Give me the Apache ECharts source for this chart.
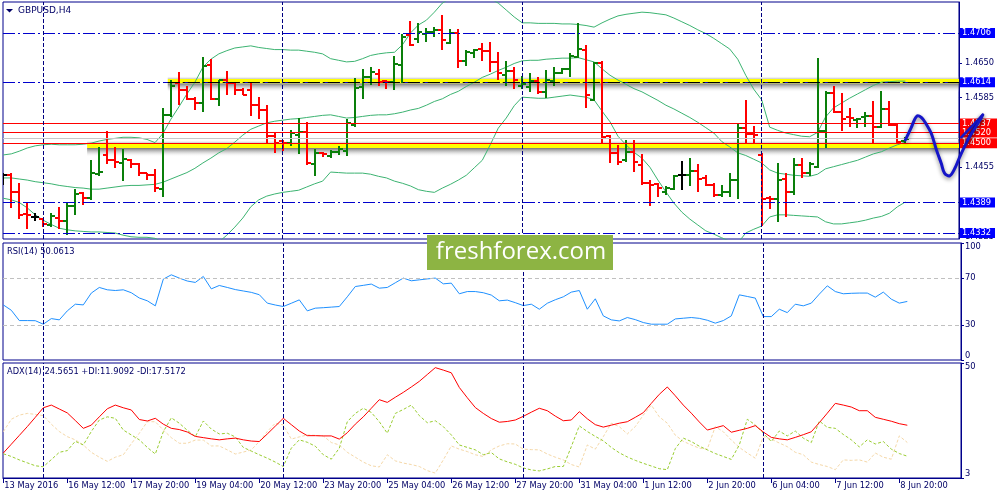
<!DOCTYPE html>
<html><head><meta charset="utf-8">
<script src="https://cdn.jsdelivr.net/npm/echarts@6/dist/echarts.min.js"></script>
<style>html,body{margin:0;padding:0;background:#fff}#c{width:1000px;height:500px}</style>
</head><body><div id="c"></div>
<script>
// ---------- DATA (GBPUSD H4, 13 May - 8 Jun 2016) ----------
const open=[1.4440,1.4440,1.4409,1.4367,1.4362,1.4358,1.4347,1.4360,1.4354,1.4383,
1.4407,1.4397,1.4442,1.4478,1.4468,1.4463,1.4468,1.4461,1.4444,1.4440,
1.4414,1.4553,1.4613,1.4599,1.4583,1.4575,1.4646,1.4583,1.4618,1.4612,
1.4599,1.4599,1.4571,1.4562,1.4513,1.4504,1.4500,1.4515,1.4521,1.4461,
1.4482,1.4476,1.4483,1.4485,1.4534,1.4605,1.4624,1.4629,1.4616,1.4614,
1.4646,1.4702,1.4695,1.4704,1.4708,1.4712,1.4687,1.4706,1.4654,1.4669,
1.4676,1.4672,1.4652,1.4627,1.4635,1.4607,1.4605,1.4616,1.4596,1.4616,
1.4631,1.4639,1.4661,1.4674,1.4581,1.4650,1.4513,1.4482,1.4468,1.4483,
1.4459,1.4425,1.4424,1.4409,1.4414,1.4440,1.4440,1.4448,1.4435,1.4422,
1.4403,1.4409,1.4431,1.4528,1.4517,1.4478,1.4397,1.4395,1.4433,1.4408,
1.4459,1.4444,1.4455,1.4523,1.4594,1.4558,1.4549,1.4543,1.4549,1.4551,
1.4530,1.4563,1.4534,1.4504];
const high=[1.4445,1.4444,1.4426,1.4388,1.4369,1.4360,1.4369,1.4380,1.4390,1.4415,
1.4409,1.4468,1.4493,1.4523,1.4493,1.4490,1.4470,1.4462,1.4445,1.4451,
1.4565,1.4618,1.4634,1.4606,1.4587,1.4662,1.4657,1.4619,1.4635,1.4613,
1.4603,1.4615,1.4586,1.4571,1.4521,1.4506,1.4525,1.4548,1.4540,1.4490,
1.4484,1.4487,1.4495,1.4546,1.4621,1.4638,1.4643,1.4638,1.4618,1.4663,
1.4705,1.4728,1.4724,1.4715,1.4718,1.4740,1.4713,1.4713,1.4675,1.4677,
1.4688,1.4690,1.4671,1.4654,1.4643,1.4626,1.4632,1.4623,1.4637,1.4643,
1.4641,1.4668,1.4724,1.4684,1.4652,1.4654,1.4515,1.4497,1.4505,1.4505,
1.4480,1.4431,1.4425,1.4419,1.4440,1.4467,1.4472,1.4461,1.4440,1.4425,
1.4422,1.4445,1.4537,1.4581,1.4532,1.4482,1.4401,1.4462,1.4444,1.4472,
1.4472,1.4464,1.4660,1.4597,1.4607,1.4594,1.4565,1.4548,1.4558,1.4579,
1.4598,1.4579,1.4537,1.4511];
const low=[1.4422,1.4378,1.4358,1.4339,1.4355,1.4344,1.4344,1.4339,1.4328,1.4366,
1.4384,1.4394,1.4439,1.4461,1.4453,1.4430,1.4453,1.4439,1.4431,1.4409,
1.4400,1.4549,1.4571,1.4581,1.4562,1.4559,1.4581,1.4569,1.4590,1.4590,
1.4590,1.4550,1.4546,1.4501,1.4482,1.4486,1.4495,1.4480,1.4459,1.4439,
1.4475,1.4473,1.4478,1.4476,1.4531,1.4583,1.4609,1.4607,1.4601,1.4599,
1.4612,1.4682,1.4687,1.4690,1.4699,1.4675,1.4685,1.4640,1.4644,1.4659,
1.4654,1.4634,1.4619,1.4606,1.4601,1.4601,1.4596,1.4592,1.4584,1.4606,
1.4629,1.4623,1.4659,1.4565,1.4579,1.4498,1.4463,1.4459,1.4465,1.4447,
1.4422,1.4383,1.4400,1.4403,1.4412,1.4412,1.4420,1.4409,1.4419,1.4399,
1.4400,1.4400,1.4396,1.4500,1.4500,1.4345,1.4376,1.4353,1.4362,1.4403,
1.4434,1.4439,1.4453,1.4491,1.4556,1.4523,1.4531,1.4529,1.4531,1.4501,
1.4528,1.4532,1.4500,1.4501];
const close=[1.4440,1.4409,1.4366,1.4365,1.4362,1.4349,1.4364,1.4354,1.4383,1.4405,
1.4397,1.4445,1.4447,1.4468,1.4465,1.4470,1.4461,1.4444,1.4440,1.4416,
1.4553,1.4607,1.4599,1.4583,1.4575,1.4644,1.4583,1.4618,1.4613,1.4599,
1.4590,1.4571,1.4562,1.4513,1.4501,1.4500,1.4519,1.4521,1.4463,1.4482,
1.4480,1.4483,1.4489,1.4538,1.4603,1.4624,1.4633,1.4614,1.4614,1.4648,
1.4698,1.4684,1.4708,1.4708,1.4712,1.4693,1.4706,1.4654,1.4671,1.4674,
1.4672,1.4652,1.4631,1.4635,1.4618,1.4611,1.4616,1.4596,1.4618,1.4631,
1.4639,1.4663,1.4676,1.4590,1.4650,1.4511,1.4481,1.4465,1.4483,1.4465,
1.4425,1.4422,1.4416,1.4417,1.4439,1.4440,1.4448,1.4433,1.4422,1.4403,
1.4409,1.4431,1.4528,1.4517,1.4515,1.4395,1.4395,1.4431,1.4408,1.4459,
1.4444,1.4461,1.4523,1.4594,1.4558,1.4546,1.4547,1.4546,1.4551,1.4530,
1.4563,1.4534,1.4502,1.4508];
const bbUpper=[1.4478,1.4480,1.4485,1.4491,1.4495,1.4497,1.4498,1.4497,1.4497,1.4497,
1.4498,1.4500,1.4504,1.4507,1.4509,1.4511,1.4511,1.4510,1.4507,1.4501,
1.4518,1.4545,1.4568,1.4592,1.4614,1.4642,1.4657,1.4667,1.4673,1.4678,
1.4680,1.4682,1.4679,1.4677,1.4675,1.4675,1.4674,1.4674,1.4672,1.4670,
1.4667,1.4658,1.4655,1.4652,1.4653,1.4658,1.4664,1.4667,1.4669,1.4670,
1.4684,1.4706,1.4721,1.4730,1.4745,1.4762,1.4771,1.4779,1.4783,1.4781,
1.4777,1.4770,1.4762,1.4749,1.4736,1.4725,1.4725,1.4724,1.4724,1.4724,
1.4723,1.4723,1.4722,1.4720,1.4717,1.4725,1.4732,1.4738,1.4741,1.4743,
1.4745,1.4744,1.4742,1.4740,1.4734,1.4727,1.4720,1.4712,1.4705,1.4696,
1.4686,1.4676,1.4657,1.4627,1.4601,1.4581,1.4530,1.4524,1.4519,1.4516,
1.4513,1.4512,1.4520,1.4549,1.4566,1.4575,1.4584,1.4592,1.4600,1.4608,
1.4614,1.4615,1.4616,1.4616];
const bbMiddle=[1.4435,1.4435,1.4433,1.4431,1.4428,1.4426,1.4424,1.4421,1.4419,1.4417,
1.4416,1.4414,1.4414,1.4416,1.4418,1.4420,1.4421,1.4421,1.4422,1.4423,
1.4427,1.4433,1.4439,1.4445,1.4453,1.4463,1.4472,1.4482,1.4490,1.4502,
1.4515,1.4526,1.4532,1.4538,1.4541,1.4543,1.4545,1.4546,1.4548,1.4550,
1.4552,1.4553,1.4550,1.4547,1.4548,1.4550,1.4552,1.4553,1.4553,1.4555,
1.4558,1.4562,1.4565,1.4571,1.4578,1.4583,1.4591,1.4597,1.4606,1.4614,
1.4623,1.4629,1.4636,1.4642,1.4649,1.4654,1.4655,1.4655,1.4657,1.4658,
1.4659,1.4659,1.4660,1.4656,1.4652,1.4639,1.4627,1.4618,1.4610,1.4602,
1.4596,1.4588,1.4580,1.4571,1.4564,1.4556,1.4548,1.4539,1.4529,1.4519,
1.4503,1.4493,1.4482,1.4477,1.4470,1.4463,1.4450,1.4444,1.4442,1.4440,
1.4439,1.4438,1.4442,1.4452,1.4456,1.4460,1.4464,1.4468,1.4474,1.4480,
1.4484,1.4491,1.4497,1.4502];
const bbLower=[1.4397,1.4394,1.4389,1.4379,1.4366,1.4356,1.4348,1.4341,1.4338,1.4336,
1.4335,1.4334,1.4334,1.4333,1.4332,1.4328,1.4325,1.4324,1.4324,1.4322,
1.4315,1.4300,1.4289,1.4281,1.4281,1.4289,1.4300,1.4315,1.4328,1.4343,
1.4360,1.4381,1.4394,1.4401,1.4405,1.4408,1.4410,1.4412,1.4418,1.4424,
1.4429,1.4446,1.4445,1.4444,1.4444,1.4444,1.4442,1.4438,1.4435,1.4429,
1.4425,1.4420,1.4413,1.4410,1.4408,1.4416,1.4423,1.4431,1.4440,1.4454,
1.4468,1.4497,1.4528,1.4547,1.4570,1.4586,1.4585,1.4584,1.4584,1.4586,
1.4588,1.4590,1.4588,1.4586,1.4581,1.4560,1.4540,1.4513,1.4497,1.4483,
1.4472,1.4455,1.4431,1.4409,1.4388,1.4371,1.4358,1.4347,1.4336,1.4330,
1.4323,1.4317,1.4313,1.4332,1.4339,1.4345,1.4362,1.4366,1.4366,1.4365,
1.4364,1.4363,1.4362,1.4353,1.4349,1.4349,1.4351,1.4353,1.4356,1.4360,
1.4363,1.4369,1.4381,1.4390];
const rsi=[47.1,42.5,33.7,33.7,33.6,30.6,35.4,34.3,42.0,47.7,
47.1,57.2,62.0,60.0,59.4,60.0,57.5,53.0,50.6,46.3,
69.1,72.8,70.0,67.5,66.3,71.4,60.8,63.7,62.0,60.2,
59.0,57.8,55.8,48.6,47.0,45.7,48.5,51.4,42.0,44.3,
44.7,45.2,45.7,54.0,62.8,63.8,64.9,61.4,62.0,66.0,
70.0,67.7,68.5,69.3,70.0,65.1,65.7,56.6,58.5,58.5,
57.5,55.5,50.6,51.2,49.0,46.5,47.7,43.4,48.5,51.5,
54.0,58.0,59.4,43.4,52.3,37.7,34.3,33.4,36.3,34.5,
32.0,30.6,30.6,30.6,35.1,35.7,36.3,35.6,34.0,31.5,
33.7,37.7,55.7,54.3,52.9,37.1,37.1,43.4,40.5,47.7,
46.3,48.6,56.3,63.4,58.5,56.6,57.0,57.2,57.2,53.7,
58.0,52.0,48.6,50.06];
const adx=[13.2,16.8,20.4,24.0,27.8,31.7,32.8,31.2,29.6,26.5,
23.3,24.6,28.0,31.3,32.8,31.7,30.8,26.9,26.3,27.4,
25.0,23.3,22.8,21.8,20.0,19.5,19.0,18.6,19.0,19.3,
18.6,18.1,17.9,21.0,24.2,27.4,24.8,22.2,20.3,20.3,
20.2,20.2,18.9,21.5,25.0,28.0,31.5,35.0,33.9,36.0,
38.0,40.2,42.5,45.3,48.1,47.1,46.0,40.0,35.8,31.8,
29.4,27.3,25.8,26.1,26.7,28.2,29.9,31.5,30.5,28.3,
26.4,26.7,30.1,27.2,24.8,23.8,24.6,25.4,26.0,27.8,
29.7,33.5,37.2,40.2,36.6,32.8,29.5,25.9,22.6,23.5,
24.4,21.7,22.5,23.3,24.4,21.8,19.6,19.0,18.6,19.6,
20.7,21.9,25.6,29.5,33.5,32.8,32.0,30.5,30.5,27.8,
27.0,26.2,25.2,24.57];
const plusDI=[12.9,11.8,10.4,9.2,8.0,7.6,10.5,13.5,14.2,18.0,
16.5,22.0,26.7,28.0,27.4,22.6,20.6,18.6,15.5,12.8,
21.9,27.6,25.4,22.5,19.9,26.3,23.0,21.0,21.3,19.8,
15.5,14.0,12.5,11.1,9.5,7.7,15.2,18.6,17.6,16.0,
12.5,10.7,15.2,26.0,29.4,31.5,29.8,26.0,21.3,29.4,
31.0,32.8,28.5,25.6,26.4,24.0,20.6,16.5,15.5,14.5,
12.5,13.4,10.8,9.6,8.6,7.1,6.3,5.9,6.7,7.7,
7.7,15.8,24.3,22.0,20.0,18.2,15.5,13.3,11.6,10.2,
9.0,7.9,6.8,6.4,15.0,19.3,17.9,16.0,14.5,13.0,
11.8,10.6,16.5,27.0,24.7,21.3,17.9,22.2,20.2,22.2,
19.3,17.5,26.3,23.7,23.3,20.8,18.6,15.7,18.6,16.9,
17.9,14.8,13.0,11.91];
const minusDI=[21.9,27.0,28.7,29.4,29.0,28.5,25.0,22.0,19.9,18.6,
16.5,13.5,11.5,9.8,11.5,12.5,17.0,21.3,26.0,26.0,
22.6,19.5,17.2,17.2,18.5,18.5,16.1,16.1,14.5,12.8,
13.6,14.5,17.9,22.0,25.4,24.7,18.9,19.8,20.6,20.4,
20.2,17.5,16.5,13.5,11.5,9.5,8.0,7.5,12.5,10.0,
9.1,8.5,7.7,6.0,5.0,10.4,16.1,14.8,13.8,12.5,
11.8,14.5,16.1,17.0,16.9,14.8,14.6,14.5,12.8,11.5,
10.4,8.5,7.5,16.5,14.8,19.9,25.4,24.0,21.0,24.0,
28.7,32.8,28.0,25.4,20.5,18.0,16.5,15.2,14.8,24.0,
21.9,18.5,15.5,13.2,11.1,19.9,18.9,17.3,15.8,13.5,
12.5,9.5,8.5,7.7,6.4,10.4,10.2,10.4,9.5,13.2,
11.5,10.7,20.2,17.52];
const xLabelIdx=[0,8,16,24,32,40,48,56,64,72,80,88,96,104,112];
const xLabels=['13 May 2016','16 May 12:00','17 May 20:00','19 May 04:00','20 May 12:00','23 May 20:00','25 May 04:00','26 May 12:00','27 May 20:00','31 May 04:00','1 Jun 12:00','2 Jun 20:00','6 Jun 04:00','7 Jun 12:00','8 Jun 20:00'];
const weekStarts=[5,35,65,95];
const plainTicks=[1.4325,1.4455,1.4585,1.4650];
const levelsBlue=[1.4706,1.4614,1.4389,1.4332];
const levelsRed=[1.4537,1.4520,1.4500];
const bidPrice=1.4509;
const zoneHigh={from:20.6, top:1.4620, bottom:1.4612, line:1.4614};
const zoneLow={from:10.5, top:1.4500, bottom:1.4491};
const rsiLevels=[30,70];
const rsiTicks=[0,30,70,100];
const adxTicks=[3,50];
const predIdx=[113.0,113.7,114.4,115.0,115.6,116.25,116.9,117.5,117.9,118.55,119.2,119.8,120.4,121.7,122.7];
const predPrice=[1.4506,1.4528,1.4550,1.4548,1.4536,1.4518,1.4487,1.4462,1.4444,1.4439,1.4453,1.4474,1.4493,1.4531,1.4553];
const arrowIdx=[[120.0,122.7],[120.8,122.6]];
const arrowPrice=[[1.4511,1.4553],[1.4506,1.4549]];

// ---------- CHART ----------
const F='DejaVu Sans', FS=8.3, NAVY='#00008b', TXT='#000066';
const xMin=-0.0375, xMax=119.7125, yMin=1.43208, yMax=1.47640;
const PLOT_W=958, MAIN_H=237;
const pxP=(yMax-yMin)/MAIN_H; // price per pixel
const ohlc=open.map((o,i)=>[i,o,high[i],low[i],close[i]]);
const pairs=a=>a.map((v,i)=>[i,v]);
const near=(v,arr)=>arr.some(a=>Math.abs(a-v)<1e-6);
const hLine=(v,style,x0)=>[{coord:[x0===undefined?xMin:x0,v],lineStyle:style},{coord:[xMax,v],lineStyle:style}];

function renderBar(params, api){
  const i=api.value(0),o=api.value(1),h=api.value(2),l=api.value(3),c=api.value(4);
  const pH=api.coord([i,h]),pL=api.coord([i,l]),pO=api.coord([i,o]),pC=api.coord([i,c]);
  const col=c>o?'#0a7f0a':(c<o?'#ff0000':'#000000');
  const x=Math.round(pH[0]);
  const st={stroke:col,lineWidth:2};
  const yo=Math.round(pO[1]), yc=Math.round(pC[1]);
  return {type:'group',children:[
    {type:'line',shape:{x1:x,y1:Math.round(pH[1]),x2:x,y2:Math.round(pL[1])},style:st},
    {type:'line',shape:{x1:x-4,y1:yo,x2:x,y2:yo},style:st},
    {type:'line',shape:{x1:x,y1:yc,x2:x+4,y2:yc},style:st}
  ]};
}
const PEN='#1616c8';
function renderPen(params, api){
  const pts=predIdx.map((v,i)=>api.coord([v,predPrice[i]]));
  const pen={stroke:PEN,fill:null,lineWidth:3,lineCap:'round',lineJoin:'round',shadowBlur:4,shadowColor:'rgba(0,0,0,0.45)',shadowOffsetY:2};
  const kids=[{type:'polyline',shape:{points:pts,smooth:0.35},style:pen}];
  arrowIdx.forEach((xs,k)=>{
    const a=api.coord([xs[0],arrowPrice[k][0]]), b=api.coord([xs[1],arrowPrice[k][1]]);
    kids.push({type:'line',shape:{x1:a[0],y1:a[1],x2:b[0],y2:b[1]},style:Object.assign({},pen,{lineWidth:2.5})});
  });
  return {type:'group',children:kids};
}
const weekLines=weekStarts.map(v=>({xAxis:v,lineStyle:{color:'#000080',type:[4,2],width:1}}));
const mlBase={silent:true,symbol:['none','none'],animation:false,precision:6,label:{show:false}};
const line=(data,color,xi,yi,extra)=>Object.assign({type:'line',xAxisIndex:xi,yAxisIndex:yi,data:data,
  symbol:'none',showSymbol:false,animation:false,silent:true,lineStyle:{color:color,width:1}},extra||{});

const shadowDown=new echarts.graphic.LinearGradient(0,0,0,1,[{offset:0,color:'rgba(70,70,70,0.75)'},{offset:0.45,color:'rgba(140,140,140,0.4)'},{offset:1,color:'rgba(255,255,255,0)'}]);
const shadowUp=new echarts.graphic.LinearGradient(0,1,0,0,[{offset:0,color:'rgba(120,120,120,0.45)'},{offset:1,color:'rgba(255,255,255,0)'}]);
const zoneAreas=[];
[zoneHigh,zoneLow].forEach(z=>{
  zoneAreas.push([{coord:[z.from,z.bottom],itemStyle:{color:shadowDown}},{coord:[xMax,z.bottom-9*pxP]}]);
  zoneAreas.push([{coord:[z.from,z.top+3*pxP],itemStyle:{color:shadowUp}},{coord:[xMax,z.top]}]);
  zoneAreas.push([{coord:[z.from,z.top],itemStyle:{color:'#ffff00'}},{coord:[xMax,z.bottom]}]);
});

const blueDD={color:'#0000cd',type:[12,3,2,3],width:1};
const axisLabelMain={customValues:[...plainTicks,...levelsBlue,...levelsRed],margin:1,
  formatter:v=>{const t=v.toFixed(4); if(near(v,levelsBlue)) return '{b|'+t+'}'; if(near(v,levelsRed)) return '{r|'+t+'}'; return '{p|'+t+'}';},
  rich:{
    p:{color:TXT,fontFamily:F,fontSize:FS,padding:[0,0,0,5]},
    b:{color:'#ffffff',fontFamily:F,fontSize:FS,backgroundColor:'#0000ff',padding:[1,4,1,2],lineHeight:9},
    r:{color:'#ffffff',fontFamily:F,fontSize:FS,backgroundColor:'#ff0000',padding:[1,6,1,2],lineHeight:9}
  }};

const option={
  animation:false,
  backgroundColor:'#ffffff',
  grid:[
    {left:3,top:2,width:PLOT_W,height:MAIN_H,show:true,borderColor:NAVY,borderWidth:1,backgroundColor:'#fff'},
    {left:3,top:243,width:PLOT_W,height:117,show:true,borderColor:NAVY,borderWidth:1,backgroundColor:'#fff'},
    {left:3,top:363,width:PLOT_W,height:115,show:true,borderColor:NAVY,borderWidth:1,backgroundColor:'#fff'}
  ],
  xAxis:[
    {gridIndex:0,type:'value',min:xMin,max:xMax,show:false},
    {gridIndex:1,type:'value',min:xMin,max:xMax,show:false},
    {gridIndex:2,type:'value',min:xMin,max:xMax,
      splitLine:{show:false},
      axisLine:{show:true,onZero:false,lineStyle:{color:NAVY}},
      axisTick:{show:true,customValues:xLabelIdx,length:5,lineStyle:{color:NAVY}},
      axisLabel:{customValues:xLabelIdx,align:'left',margin:4,padding:[0,0,0,1],color:TXT,fontFamily:F,fontSize:FS,
        formatter:v=>xLabels[xLabelIdx.indexOf(Math.round(v))]||''}}
  ],
  yAxis:[
    {gridIndex:0,type:'value',position:'right',min:yMin,max:yMax,splitLine:{show:false},
      axisLine:{show:true,onZero:false,lineStyle:{color:NAVY}},
      axisTick:{show:true,length:3,customValues:[...plainTicks,...levelsBlue,...levelsRed],lineStyle:{color:NAVY}},
      axisLabel:axisLabelMain},
    {gridIndex:1,type:'value',position:'right',min:0,max:100,splitLine:{show:false},
      axisLine:{show:true,onZero:false,lineStyle:{color:NAVY}},
      axisTick:{show:true,length:3,customValues:rsiTicks,lineStyle:{color:NAVY}},
      axisLabel:{customValues:rsiTicks,margin:4,color:TXT,fontFamily:F,fontSize:FS,
        verticalAlignMinLabel:'bottom',verticalAlignMaxLabel:'top'}},
    {gridIndex:2,type:'value',position:'right',min:3,max:50,splitLine:{show:false},
      axisLine:{show:true,onZero:false,lineStyle:{color:NAVY}},
      axisTick:{show:true,length:3,customValues:adxTicks,lineStyle:{color:NAVY}},
      axisLabel:{customValues:adxTicks,margin:4,color:TXT,fontFamily:F,fontSize:FS,
        verticalAlignMinLabel:'bottom',verticalAlignMaxLabel:'top'}}
  ],
  series:[
    line(pairs(bbMiddle),'#3cb371',0,0,{z:1,
      markArea:{silent:true,animation:false,label:{show:false},data:zoneAreas},
      markLine:Object.assign({},mlBase,{data:[
        hLine(bidPrice,{color:'#c8c8c8',type:'solid',width:1}),
        ...levelsBlue.map(v=>hLine(v,blueDD)),
        hLine(zoneHigh.line,{color:'#000000',type:[12,3,2,3],width:1},zoneHigh.from),
        ...levelsRed.map(v=>hLine(v,{color:'#ff0000',type:'solid',width:1})),
        ...weekLines]})}),
    line(pairs(bbUpper),'#3cb371',0,0,{z:2}),
    line(pairs(bbLower),'#3cb371',0,0,{z:2}),
    {type:'custom',xAxisIndex:0,yAxisIndex:0,data:ohlc,renderItem:renderBar,clip:true,z:3,silent:true,animation:false,
      encode:{x:0,y:[1,2,3,4]}},
    {type:'custom',xAxisIndex:0,yAxisIndex:0,data:[[predIdx[0],predPrice[0]]],renderItem:renderPen,clip:false,
      zlevel:1,z:10,silent:true,animation:false,encode:{x:0,y:1}},
    line(pairs(rsi),'#1e90ff',1,1,{z:3,
      markLine:Object.assign({},mlBase,{data:[
        ...rsiLevels.map(v=>({yAxis:v,lineStyle:{color:'#c0c0c0',type:[4,3],width:1}})),
        ...weekLines]})}),
    line(pairs(minusDI),'#f5deb3',2,2,{z:2,lineStyle:{color:'#f5d8a8',width:1,type:[3,2]},
      markLine:Object.assign({},mlBase,{data:weekLines})}),
    line(pairs(plusDI),'#9acd32',2,2,{z:3,lineStyle:{color:'#9acd32',width:1,type:[3,2]}}),
    line(pairs(adx),'#ff0000',2,2,{z:4})
  ],
  graphic:[
    {type:'polygon',shape:{points:[[6,9],[13,9],[9.5,12.5]]},style:{fill:'#000066'},z:50},
    {type:'text',x:18,y:11,style:{text:'GBPUSD,H4',fill:TXT,fontFamily:F,fontSize:9,verticalAlign:'middle'},z:50},
    {type:'text',x:7,y:252,style:{text:'RSI(14) 50.0613',fill:TXT,fontFamily:F,fontSize:FS,verticalAlign:'middle'},z:50},
    {type:'text',x:7,y:372,style:{text:'ADX(14) 24.5651 +DI:11.9092 -DI:17.5172',fill:TXT,fontFamily:F,fontSize:FS,verticalAlign:'middle'},z:50},
    {type:'rect',shape:{x:427,y:235,width:186,height:35},style:{fill:'#8db443'},zlevel:2,z:100},
    {type:'text',x:521,y:252,style:{text:'freshforex.com',fill:'#ffffff',fontFamily:'Open Sans',fontSize:24,align:'center',verticalAlign:'middle'},zlevel:2,z:101}
  ]
};
const chart=echarts.init(document.getElementById('c'),null,{renderer:'canvas'});
chart.setOption(option);
</script></body></html>
